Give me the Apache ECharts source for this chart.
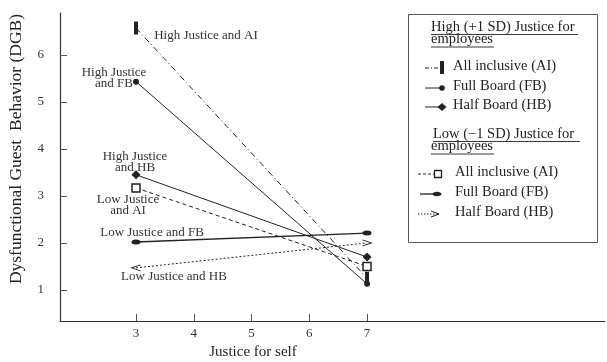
<!DOCTYPE html>
<html>
<head>
<meta charset="utf-8">
<script src="https://cdn.jsdelivr.net/npm/echarts@6/dist/echarts.min.js"></script>
<style>
html,body{margin:0;padding:0;background:#fff;}
#c{width:607px;height:362px;}
</style>
</head>
<body>
<div id="c"></div>
<script>
// ---- data ----
var xValues = [3, 7];
var xTicks = [3, 4, 5, 6, 7];
var yTicks = [1, 2, 3, 4, 5, 6];
var highAI = [6.57, 1.25];
var highFB = [5.43, 1.13];
var highHB = [3.45, 1.7];
var lowAI = [3.17, 1.5];
var lowFB = [2.02, 2.21];
var lowHB = [1.47, 2.0];
var pointLabels = {
  highAI: 'High Justice and AI',
  highFB: 'High Justice\nand FB',
  highHB: 'High Justice\nand HB',
  lowAI: 'Low Justice\nand AI',
  lowFB: 'Low Justice and FB',
  lowHB: 'Low Justice and HB'
};
var xTitle = 'Justice for self';
var yTitle = 'Dysfunctional Guest  Behavior (DGB)';
var legendHeadHigh = ['High (+1 SD) Justice for', 'employees'];
var legendHeadLow = ['Low (\u22121 SD) Justice for', 'employees'];
var legendItems = ['All inclusive (AI)', 'Full Board (FB)', 'Half Board (HB)'];

var FONT = '"Liberation Serif", "DejaVu Serif", serif';
var INK = '#222';

function pts(vals, labelText, offset, extra) {
  return xValues.map(function (x, i) {
    var d = { value: [x, vals[i]] };
    if (extra && extra[i]) { for (var k in extra[i]) d[k] = extra[i][k]; }
    if (i === 0 && labelText) {
      d.label = {
        show: true, formatter: labelText, position: 'inside',
        align: 'center', verticalAlign: 'middle', offset: offset,
        fontFamily: FONT, fontSize: 13, color: '#333', lineHeight: 11
      };
    }
    return d;
  });
}

var chevron = 'path://M0,0 L10,4 L0,8';

var series = [
  { name: 'highAI', type: 'line', data: pts(highAI, pointLabels.highAI, [70, 8]),
    symbol: 'rect', symbolSize: [4, 13], itemStyle: { color: INK },
    lineStyle: { color: INK, width: 1, type: [6, 3, 1, 3] } },
  { name: 'highFB', type: 'line', data: pts(highFB, pointLabels.highFB, [-22, -4]),
    symbol: 'circle', symbolSize: 6, itemStyle: { color: INK },
    lineStyle: { color: INK, width: 1 } },
  { name: 'highHB', type: 'line', data: pts(highHB, pointLabels.highHB, [-1, -13]),
    symbol: 'diamond', symbolSize: 9, itemStyle: { color: INK },
    lineStyle: { color: INK, width: 1 } },
  { name: 'lowAI', type: 'line', data: pts(lowAI, pointLabels.lowAI, [-8, 17]),
    symbol: 'rect', symbolSize: 8, itemStyle: { color: '#fff', borderColor: INK, borderWidth: 1.5 },
    lineStyle: { color: INK, width: 1, type: [4, 3] } },
  { name: 'lowFB', type: 'line', data: pts(lowFB, pointLabels.lowFB, [16, -9]),
    symbol: 'circle', symbolSize: [9, 5], itemStyle: { color: INK },
    lineStyle: { color: INK, width: 1.3 } },
  { name: 'lowHB', type: 'line', data: pts(lowHB, pointLabels.lowHB, [38, 9],
      [{ symbolRotate: 180 }, { symbolRotate: 0 }]),
    symbol: chevron, symbolSize: [9, 6], itemStyle: { color: 'rgba(0,0,0,0)', borderColor: INK, borderWidth: 1 },
    lineStyle: { color: INK, width: 1, type: [2, 2] } }
];
series.forEach(function (s) { s.z = 3; s.animation = false; s.emphasis = { disabled: true }; });

// ---- legend (drawn) ----
var g = [];
function txt(x, y, t, size) {
  g.push({ type: 'text', left: x, top: y - size / 2 - 1, style: { text: t, font: size + 'px ' + FONT, fill: '#222' } });
}
function underline(x1, x2, y) {
  g.push({ type: 'line', shape: { x1: x1, y1: y, x2: x2, y2: y }, style: { stroke: '#222', lineWidth: 0.9 } });
}
function seg(x1, x2, y, dash, w) {
  g.push({ type: 'line', shape: { x1: x1, y1: y, x2: x2, y2: y }, style: { stroke: INK, lineWidth: w || 1, lineDash: dash || null } });
}
g.push({ type: 'rect', shape: { x: 408.5, y: 14.5, width: 189, height: 228 }, style: { fill: '#fff', stroke: '#555', lineWidth: 1 } });
txt(431, 28, legendHeadHigh[0], 14.5); underline(431, 578, 34.5);
txt(431, 40, legendHeadHigh[1], 14.5); underline(431, 494, 47);
txt(453, 67, legendItems[0], 14.5);
txt(453, 87, legendItems[1], 14.5);
txt(453, 106, legendItems[2], 14.5);
seg(425, 442, 68, [4, 2, 1, 2]);
g.push({ type: 'rect', shape: { x: 440, y: 61, width: 4, height: 13 }, style: { fill: INK } });
seg(425, 442, 88);
g.push({ type: 'circle', shape: { cx: 442, cy: 88, r: 2.8 }, style: { fill: INK } });
seg(425, 442, 107);
g.push({ type: 'polygon', shape: { points: [[442, 103], [446.5, 107], [442, 111], [437.5, 107]] }, style: { fill: INK } });

txt(433, 135, legendHeadLow[0], 14.5); underline(433, 580, 141.5);
txt(431, 147, legendHeadLow[1], 14.5); underline(431, 494, 154);
txt(455, 173, legendItems[0], 14.5);
txt(455, 193, legendItems[1], 14.5);
txt(455, 213, legendItems[2], 14.5);
seg(418, 434, 174, [3, 2]);
g.push({ type: 'rect', shape: { x: 434.5, y: 170.5, width: 7, height: 7 }, style: { fill: '#fff', stroke: INK, lineWidth: 1.3 } });
seg(420, 436, 194, null, 1.3);
g.push({ type: 'ellipse', shape: { cx: 437, cy: 194, rx: 4.5, ry: 2.3 }, style: { fill: INK } });
seg(418, 438, 214, [1.5, 1.5]);
g.push({ type: 'polyline', shape: { points: [[431, 211], [439, 214], [431, 217]] }, style: { stroke: INK, fill: null, lineWidth: 1 } });

// axis titles
g.push({ type: 'text', x: 253, y: 352, style: { text: xTitle, font: '15px ' + FONT, fill: '#222', align: 'center', verticalAlign: 'middle' } });
g.push({ type: 'text', x: 16, y: 149, rotation: Math.PI / 2,
  style: { text: yTitle, font: '17.5px ' + FONT, fill: '#222', align: 'center', verticalAlign: 'middle' } });

var chart = echarts.init(document.getElementById('c'), null, { renderer: 'canvas' });
chart.setOption({
  animation: false,
  backgroundColor: '#fff',
  grid: { left: 60, top: 13, right: 2, bottom: 41, containLabel: false },
  xAxis: {
    type: 'value', min: 1.684, max: 11.12,
    splitLine: { show: false },
    axisLine: { lineStyle: { color: '#333', width: 1.2 } },
    axisTick: { inside: true, length: 7, customValues: xTicks, lineStyle: { color: '#555' } },
    axisLabel: { customValues: xTicks, margin: 6, fontFamily: FONT, fontSize: 13, color: '#333' }
  },
  yAxis: {
    type: 'value', min: 0.34, max: 6.89,
    splitLine: { show: false },
    axisLine: { show: true, lineStyle: { color: '#333', width: 1.2 } },
    axisTick: { show: true, inside: true, length: 7, customValues: yTicks, lineStyle: { color: '#555' } },
    axisLabel: { customValues: yTicks, margin: 16, fontFamily: FONT, fontSize: 13, color: '#333' }
  },
  series: series,
  graphic: g
});
</script>
</body>
</html>
